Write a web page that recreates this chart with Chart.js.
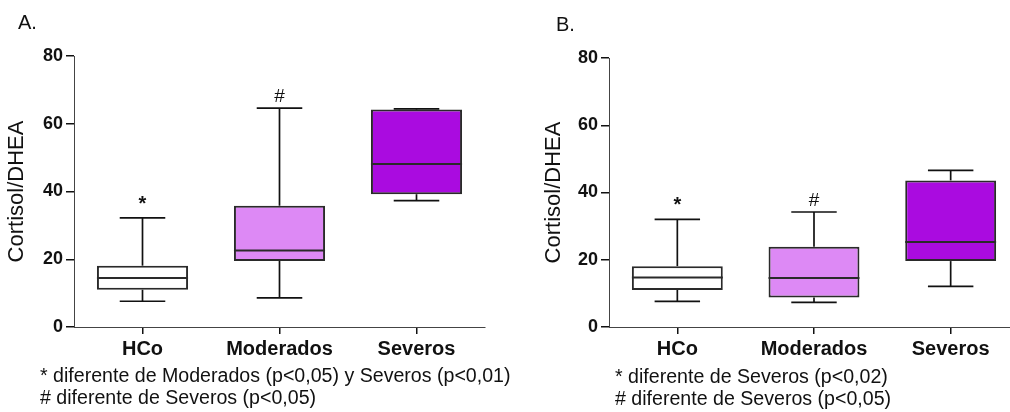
<!DOCTYPE html>
<html lang="es">
<head>
    <meta charset="UTF-8">
    <title>Cortisol/DHEA</title>
    <script src="https://cdn.jsdelivr.net/npm/chart.js"></script>
    <style>
        body { margin: 0; width: 1010px; height: 412px; overflow: hidden; background: #fff;
               font-family: 'Liberation Sans', Arial, sans-serif; position: relative; }
        .panel { position: absolute; top: 0; height: 412px; }
        .txt { position: absolute; color: #111; white-space: nowrap; }
        .letter { font-size: 20px; }
        .note { font-size: 19.6px; line-height: 22px; }
    </style>
</head>
<body>
    <div class="panel" style="left:0;width:505px;"><canvas id="chartA"></canvas></div>
    <div class="panel" style="left:520px;width:500px;"><canvas id="chartB"></canvas></div>

    <div class="txt letter" style="left:18px;top:11px;">A.</div>
    <div class="txt letter" style="left:556px;top:13px;">B.</div>
    <div class="txt note" style="left:40px;top:364px;">* diferente de Moderados (p&lt;0,05) y Severos (p&lt;0,01)<br># diferente de Severos (p&lt;0,05)</div>
    <div class="txt note" style="left:615px;top:365px;">* diferente de Severos (p&lt;0,02)<br># diferente de Severos (p&lt;0,05)</div>

    <script>
        const categories = ['HCo', 'Moderados', 'Severos'];
        const yTicks = [0, 20, 40, 60, 80];
        const boxColors = ['#ffffff', '#dd89f5', '#aa0be0'];

        // panel A
        const minA = [7.6, 8.6, 37.3];
        const q1A = [11.0, 19.5, 39.2];
        const medA = [14.5, 22.6, 48.1];
        const q3A = [18.1, 35.8, 64.2];
        const maxA = [32.2, 64.6, 64.4];
        const marksA = ['*', '#', ''];

        // panel B
        const minB = [7.6, 7.3, 12.1];
        const q1B = [11.0, 8.8, 19.6];
        const medB = [14.7, 14.6, 25.3];
        const q3B = [18.1, 23.9, 43.6];
        const maxB = [32.0, 34.2, 46.6];
        const marksB = ['*', '#', ''];

        const FONT = "'Liberation Sans', Arial, sans-serif";

        const boxPlugin = {
            id: 'boxWhiskers',
            afterDatasetsDraw(chart, args, opts) {
                const ctx = chart.ctx;
                const y = chart.scales.y;
                const meta = chart.getDatasetMeta(0);
                const line = (x1, y1, x2, y2) => {
                    ctx.beginPath(); ctx.moveTo(x1, y1); ctx.lineTo(x2, y2); ctx.stroke();
                };
                meta.data.forEach((bar, i) => {
                    const x = bar.x;
                    const half = bar.width / 2;
                    const pMin = y.getPixelForValue(opts.min[i]);
                    const pMax = y.getPixelForValue(opts.max[i]);
                    const pMed = y.getPixelForValue(opts.med[i]);
                    const pQ1 = y.getPixelForValue(opts.q1[i]);
                    const pQ3 = y.getPixelForValue(opts.q3[i]);
                    ctx.save();
                    ctx.strokeStyle = '#111';
                    ctx.lineWidth = 1.7;
                    line(x, pQ3, x, pMax);
                    line(x - half / 2, pMax, x + half / 2, pMax);
                    line(x, pQ1, x, pMin);
                    line(x - half / 2, pMin, x + half / 2, pMin);
                    ctx.strokeStyle = '#2a2a2a';
                    ctx.lineWidth = 2;
                    line(x - half, pMed, x + half, pMed);
                    const mark = opts.marks[i];
                    if (mark) {
                        ctx.fillStyle = '#111';
                        ctx.font = (mark === '*' ? 'bold 20px ' : '19px ') + FONT;
                        ctx.textAlign = 'center';
                        ctx.textBaseline = 'alphabetic';
                        ctx.fillText(mark, x, pMax - (mark === '*' ? 8 : 6));
                    }
                    ctx.restore();
                });
            }
        };

        function makeChart(id, q1, q3, med, min, max, marks, lay) {
            const ctx = document.getElementById(id).getContext('2d');
            return new Chart(ctx, {
                type: 'bar',
                data: {
                    labels: categories,
                    datasets: [{
                        data: q1.map((v, i) => [v, q3[i]]),
                        backgroundColor: boxColors,
                        borderColor: '#2a2a2a',
                        borderWidth: 2,
                        borderSkipped: false,
                        barPercentage: 0.665,
                        categoryPercentage: 1
                    }]
                },
                options: {
                    responsive: true,
                    maintainAspectRatio: false,
                    animation: false,
                    layout: { padding: { left: 0, top: lay.top, right: lay.right, bottom: 0 } },
                    plugins: {
                        legend: { display: false },
                        tooltip: { enabled: false },
                        boxWhiskers: { min: min, max: max, med: med, q1: q1, q3: q3, marks: marks }
                    },
                    scales: {
                        x: {
                            offset: true,
                            afterFit: s => { s.height = lay.xHeight; },
                            grid: { offset: false, drawOnChartArea: false, drawTicks: true, tickLength: 7, color: '#111', lineWidth: 1.5 },
                            border: { display: true, color: '#444', width: 1, dash: [2, 1] },
                            ticks: { color: '#111', padding: 3, font: { family: FONT, size: 20, weight: 'bold' } }
                        },
                        y: {
                            min: 0,
                            max: 80,
                            afterBuildTicks: s => { s.ticks = yTicks.map(v => ({ value: v })); },
                            afterFit: s => { s.width = lay.yWidth; },
                            grid: { drawOnChartArea: false, drawTicks: true, tickLength: 8, color: '#111', lineWidth: 1.5 },
                            border: { display: true, color: '#444', width: 1, dash: [2, 1] },
                            ticks: { color: '#111', padding: 3, font: { family: FONT, size: 18, weight: 'bold' } },
                            title: {
                                display: true,
                                text: 'Cortisol/DHEA',
                                color: '#111',
                                padding: { top: lay.titlePad, bottom: 0 },
                                font: { family: FONT, size: 22, weight: 'normal' }
                            }
                        }
                    }
                },
                plugins: [boxPlugin]
            });
        }

        makeChart('chartA', q1A, q3A, medA, minA, maxA, marksA,
            { top: 56, right: 20, xHeight: 85, yWidth: 74, titlePad: 4 });
        makeChart('chartB', q1B, q3B, medB, minB, maxB, marksB,
            { top: 58, right: 1, xHeight: 85, yWidth: 89, titlePad: 21 });
    </script>
</body>
</html>
